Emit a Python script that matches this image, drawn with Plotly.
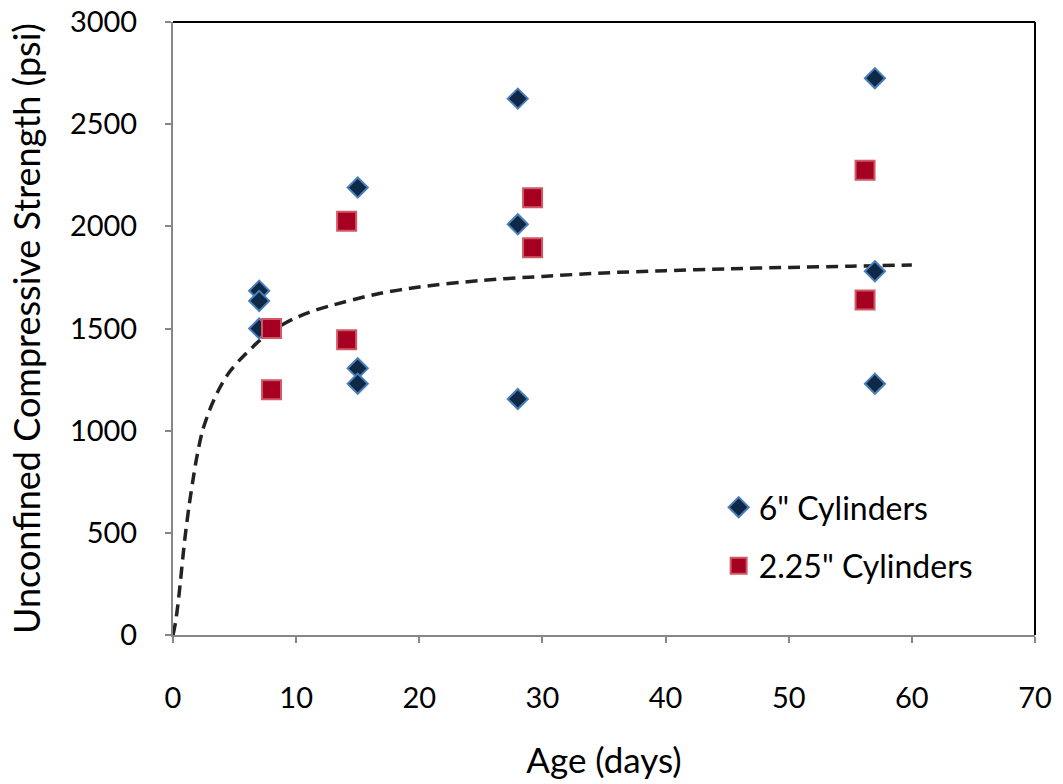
import plotly.graph_objects as go

# 6" cylinder breaks
age_6in = [7, 7, 7, 15, 15, 15, 28, 28, 28, 57, 57, 57]
ucs_6in = [1685, 1635, 1500, 2190, 1305, 1230, 2625, 2010, 1155, 2725, 1780, 1230]

# 2.25" cylinder breaks
age_225in = [8, 8, 14.1, 14.1, 29.2, 29.2, 56.2, 56.2]
ucs_225in = [1500, 1200, 2025, 1445, 2140, 1895, 2275, 1640]

# strength-gain trend curve
trend_age = [0, 0.2, 0.4, 0.6, 0.8, 1.0, 1.3, 1.6, 1.9, 2.4, 3.1, 3.8, 4.5, 5.4,
             6.4, 7.1, 8.5, 9.7, 11, 12.7, 16.5, 20, 25, 30, 35, 40, 45, 50, 55, 60]
trend_ucs = [0, 60, 150, 260, 380, 490, 630, 750, 860, 1000, 1120, 1210, 1280, 1345,
             1405, 1445, 1505, 1545, 1578, 1610, 1668, 1703, 1735, 1755, 1772, 1783,
             1792, 1799, 1805, 1811]

x_ticks = [0, 10, 20, 30, 40, 50, 60, 70]
y_ticks = [0, 500, 1000, 1500, 2000, 2500, 3000]

FONT = "Lato"
AXIS_GRAY = "#868686"

fig = go.Figure()

fig.add_trace(go.Scatter(
    x=trend_age, y=trend_ucs, mode="lines",
    line=dict(color="#222222", width=3.5, dash="12px,7px", shape="spline", smoothing=0.8),
    showlegend=False, hoverinfo="skip",
))

fig.add_trace(go.Scatter(
    x=age_6in, y=ucs_6in, mode="markers", name='6" Cylinders',
    legendgroup="a",
    marker=dict(symbol="diamond", size=15.5, color="#0F2846",
                line=dict(color="#4A7EBB", width=2)),
))

fig.add_trace(go.Scatter(
    x=age_225in, y=ucs_225in, mode="markers", name='2.25" Cylinders',
    legendgroup="b",
    marker=dict(symbol="square", size=19, color="#A50021",
                line=dict(color="#CF5A66", width=2)),
))

# black frame on the top and right of the plot area
fig.add_shape(type="line", xref="x domain", yref="y domain", x0=0, x1=1, y0=1, y1=1,
              line=dict(color="#000000", width=2))
fig.add_shape(type="line", xref="x domain", yref="y domain", x0=1, x1=1, y0=0, y1=1,
              line=dict(color="#000000", width=2))

fig.update_layout(
    width=1063, height=784,
    margin=dict(l=173, r=28, t=22, b=149, autoexpand=False),
    paper_bgcolor="white", plot_bgcolor="white",
    font=dict(family=FONT, color="#000000", size=28),
    showlegend=True,
    legend=dict(
        x=0.633, y=0.253, xanchor="left", yanchor="top",
        font=dict(family=FONT, size=32),
        traceorder="grouped", tracegroupgap=14,
        bgcolor="rgba(0,0,0,0)",
    ),
    xaxis=dict(
        range=[0, 70], tickvals=x_ticks, ticktext=[str(v) for v in x_ticks],
        showgrid=False, zeroline=False, automargin=False,
        showline=True, linecolor=AXIS_GRAY, linewidth=2,
        ticks="outside", ticklen=6, tickwidth=2, tickcolor=AXIS_GRAY,
        ticklabelstandoff=30,
        tickfont=dict(family=FONT, size=29),
        title=dict(text="Age (days)", font=dict(family=FONT, size=35), standoff=36),
    ),
    yaxis=dict(
        range=[0, 3000], tickvals=y_ticks, ticktext=[str(v) for v in y_ticks],
        showgrid=False, zeroline=False, automargin=False,
        showline=True, linecolor=AXIS_GRAY, linewidth=2,
        ticks="outside", ticklen=6, tickwidth=2, tickcolor=AXIS_GRAY,
        ticklabelstandoff=22,
        tickfont=dict(family=FONT, size=29),
        title=dict(text="Unconfined Compressive Strength (psi)",
                   font=dict(family=FONT, size=36), standoff=18),
    ),
)

fig.write_html("out.html")
